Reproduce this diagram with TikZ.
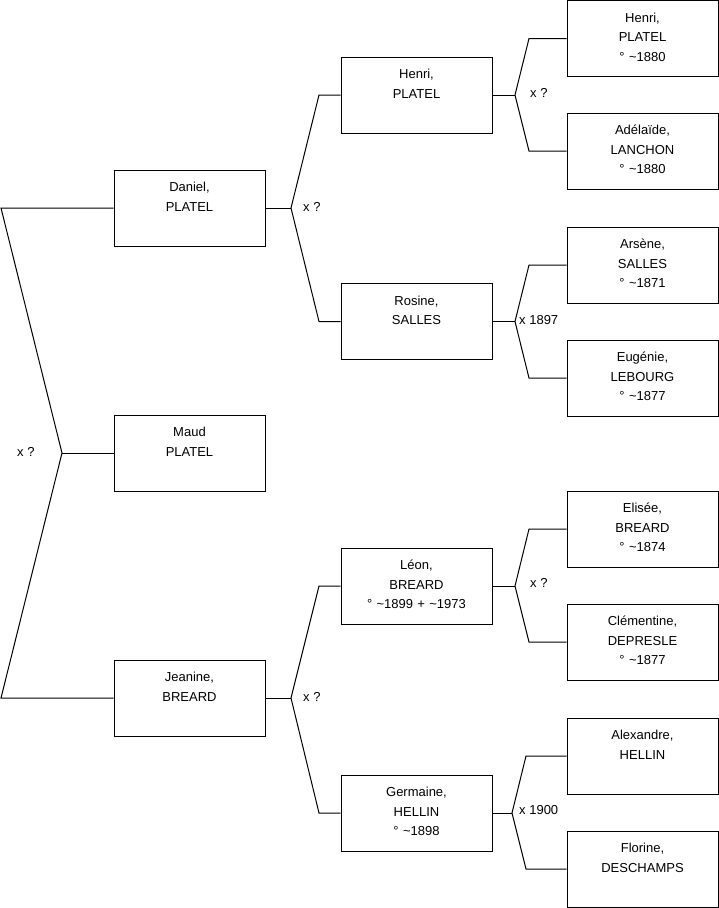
\documentclass[tikz,border=0pt]{standalone}
\usepackage{fontspec}
\setmainfont{Liberation Sans}
\begin{document}
\begin{tikzpicture}[x=1pt,y=-1pt,
  box/.style={draw,line width=1pt,minimum width=151pt,minimum height=76pt,inner sep=0pt,
    text width=151pt,align=center,text height=21.5pt,text depth=54.5pt,
    font=\fontsize{13}{19.5}\selectfont},
  conn/.style={line width=1pt},
  mlab/.style={anchor=west,inner sep=0pt,font=\fontsize{13}{15}\selectfont}]
\useasboundingbox (0,0) rectangle (719,908);
% column 1
\node[box] (daniel) at (189.5,208) {Daniel,\\PLATEL};
\node[box] (maud) at (189.5,453) {Maud\\PLATEL};
\node[box] (jeanine) at (189.5,698) {Jeanine,\\BREARD};
% column 2
\node[box] (henri) at (416.5,95) {Henri,\\PLATEL};
\node[box] (rosine) at (416.5,321.5) {Rosine,\\SALLES};
\node[box] (leon) at (416.5,586) {Léon,\\BREARD\\° \textasciitilde1899 + \textasciitilde1973};
\node[box] (germaine) at (416.5,813) {Germaine,\\HELLIN\\° \textasciitilde1898};
% column 3
\node[box] (henri3) at (642.5,38.5) {Henri,\\PLATEL\\° \textasciitilde1880};
\node[box] (adelaide) at (642.5,151) {Adélaïde,\\LANCHON\\° \textasciitilde1880};
\node[box] (arsene) at (642.5,265) {Arsène,\\SALLES\\° \textasciitilde1871};
\node[box] (eugenie) at (642.5,378) {Eugénie,\\LEBOURG\\° \textasciitilde1877};
\node[box] (elisee) at (642.5,529) {Elisée,\\BREARD\\° \textasciitilde1874};
\node[box] (clementine) at (642.5,642) {Clémentine,\\DEPRESLE\\° \textasciitilde1877};
\node[box] (alexandre) at (642.5,756) {Alexandre,\\HELLIN};
\node[box] (florine) at (642.5,869) {Florine,\\DESCHAMPS};
% junction coordinates
\coordinate (j1) at (62,453);
\coordinate (j1a) at (1,208);
\coordinate (j1b) at (1,698);
\coordinate (j2) at (291,208);
\coordinate (j2a) at (319,95);
\coordinate (j2b) at (319,321.5);
\coordinate (j3) at (291,698);
\coordinate (j3a) at (319,586);
\coordinate (j3b) at (319,813);
\coordinate (k1) at (515,95);
\coordinate (k1a) at (529,38.5);
\coordinate (k1b) at (529,151);
\coordinate (k2) at (515,321.5);
\coordinate (k2a) at (529,265);
\coordinate (k2b) at (529,378);
\coordinate (k3) at (515,586);
\coordinate (k3a) at (529,529);
\coordinate (k3b) at (529,642);
\coordinate (k4) at (512,813);
\coordinate (k4a) at (526,756);
\coordinate (k4b) at (526,869);
% connectors
\draw[conn] (daniel.west) -- (j1a) -- (j1) -- (j1b) -- (jeanine.west);
\draw[conn] (j1) -- (maud.west);
\draw[conn] (daniel.east) -- (j2);
\draw[conn] (henri.west) -- (j2a) -- (j2) -- (j2b) -- (rosine.west);
\draw[conn] (jeanine.east) -- (j3);
\draw[conn] (leon.west) -- (j3a) -- (j3) -- (j3b) -- (germaine.west);
\draw[conn] (henri.east) -- (k1);
\draw[conn] (henri3.west) -- (k1a) -- (k1) -- (k1b) -- (adelaide.west);
\draw[conn] (rosine.east) -- (k2);
\draw[conn] (arsene.west) -- (k2a) -- (k2) -- (k2b) -- (eugenie.west);
\draw[conn] (leon.east) -- (k3);
\draw[conn] (elisee.west) -- (k3a) -- (k3) -- (k3b) -- (clementine.west);
\draw[conn] (germaine.east) -- (k4);
\draw[conn] (alexandre.west) -- (k4a) -- (k4) -- (k4b) -- (florine.west);
% marriage labels
\node[mlab] (m1) at (17,452) {x ?};
\node[mlab] (m2) at (303,207) {x ?};
\node[mlab] (m3) at (303,697) {x ?};
\node[mlab] (m4) at (530,93) {x ?};
\node[mlab] (m5) at (519,320) {x 1897};
\node[mlab] (m6) at (530,583) {x ?};
\node[mlab] (m7) at (519,810) {x 1900};
\end{tikzpicture}
\end{document}
